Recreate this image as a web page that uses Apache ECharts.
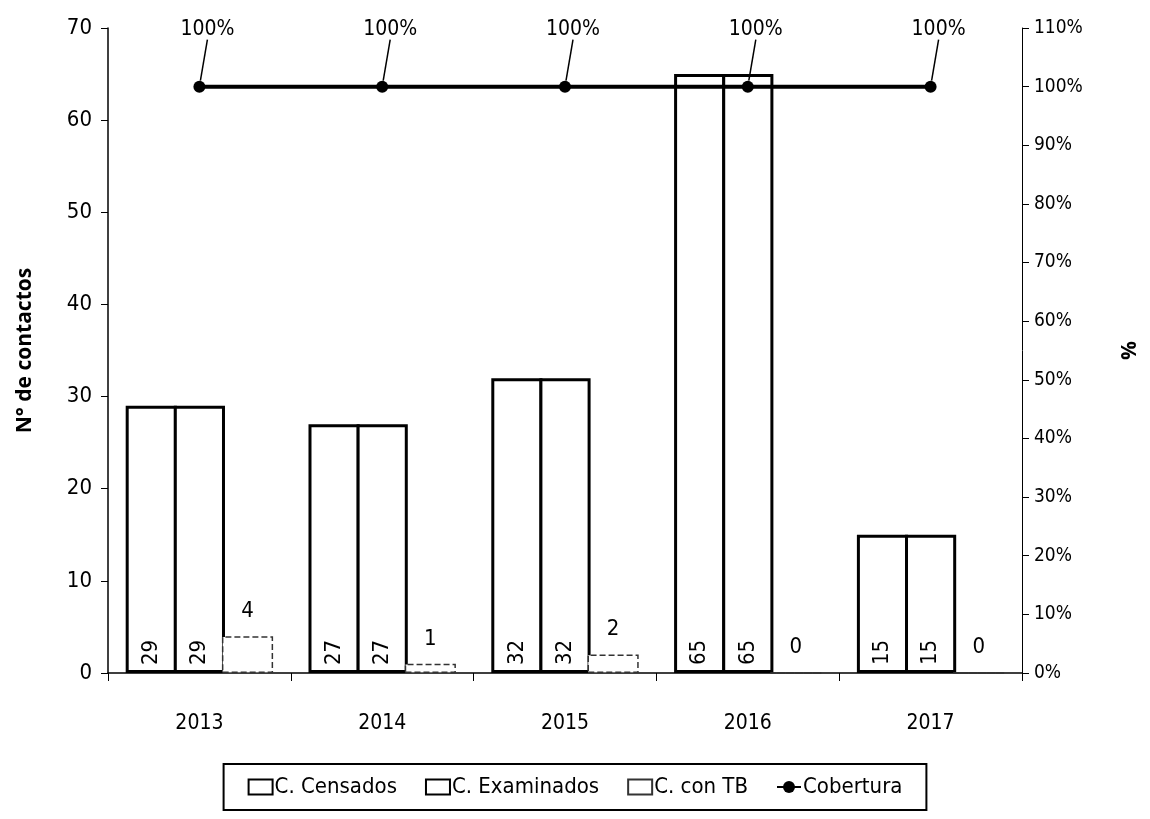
<!DOCTYPE html>
<html><head><meta charset="utf-8">
<script src="https://cdn.jsdelivr.net/npm/echarts@6/dist/echarts.min.js"></script>
<style>html,body{margin:0;padding:0;background:#fff}#c{width:1150px;height:819px}</style>
</head><body><div id="c"></div>
<script>
const categories = ['2013','2014','2015','2016','2017'];
const censados = [29, 27, 32, 65, 15];
const examinados = [29, 27, 32, 65, 15];
const conTB = [4, 1, 2, 0, 0];
const cobertura = [100, 100, 100, 100, 100];
const leftTicks = {min: 0, max: 70, interval: 10};
const rightTicks = {min: 0, max: 110, interval: 10};

const FONT = "'Liberation Sans Narrow', 'DejaVu Sans Condensed', 'Liberation Sans', sans-serif";
const chart = echarts.init(document.getElementById('c'));
const rotLabel = {
  show: true, position: 'insideBottom', rotate: 90, distance: 8,
  color: '#000', fontSize: 22, fontFamily: FONT, align: 'left', verticalAlign: 'middle'
};
chart.setOption({
  animation: false,
  backgroundColor: '#fff',
  textStyle: {fontFamily: FONT, color: '#000'},
  grid: {left: 108, right: 128, top: 28, bottom: 146},
  legend: {
    bottom: 9, left: 'center',
    data: [{name: 'C. Censados', icon: 'rect'}, {name: 'C. Examinados', icon: 'rect'}, {name: 'C. con TB', icon: 'rect'}, 'Cobertura'],
    borderColor: '#000', borderWidth: 2,
    padding: [12, 24, 12, 24],
    itemGap: 28, itemWidth: 24, itemHeight: 15,
    textStyle: {fontFamily: FONT, fontSize: 22, color: '#000', padding: [0, 0, 0, -3]}
  },
  xAxis: {
    type: 'category', data: categories,
    axisLine: {lineStyle: {color: '#000', width: 1.5}},
    axisTick: {show: true, length: 8, lineStyle: {color: '#000'}},
    axisLabel: {color: '#000', fontSize: 21, fontFamily: FONT, margin: 40}
  },
  yAxis: [{
    type: 'value', min: leftTicks.min, max: leftTicks.max, interval: leftTicks.interval,
    name: 'N° de contactos', nameLocation: 'middle', nameGap: 72, nameRotate: 90,
    nameTextStyle: {fontFamily: "'Open Sans', 'DejaVu Sans', sans-serif", fontWeight: 'bold', fontSize: 21, color: '#000'},
    axisLine: {show: true, lineStyle: {color: '#000', width: 1.5}},
    axisTick: {show: true, length: 7, lineStyle: {color: '#000'}},
    splitLine: {show: false},
    axisLabel: {color: '#000', fontSize: 22, fontFamily: FONT, margin: 16}
  }, {
    type: 'value', min: rightTicks.min, max: rightTicks.max, interval: rightTicks.interval,
    position: 'right',
    name: '%', nameLocation: 'middle', nameGap: 98, nameRotate: 90,
    nameTextStyle: {fontFamily: "'Open Sans', 'DejaVu Sans', sans-serif", fontWeight: 'bold', fontSize: 21, color: '#000'},
    axisLine: {show: true, lineStyle: {color: '#000', width: 1}},
    axisTick: {show: true, length: 7, lineStyle: {color: '#000'}},
    splitLine: {show: false},
    axisLabel: {color: '#000', fontSize: 19, fontFamily: FONT, margin: 12, formatter: '{value}%'}
  }],
  series: [{
    name: 'C. Censados', type: 'bar', data: censados,
    barWidth: '28%', barGap: '-6%',
    itemStyle: {color: '#fff', borderColor: '#000', borderWidth: 3},
    label: rotLabel
  }, {
    name: 'C. Examinados', type: 'bar', data: examinados,
    barWidth: '28%',
    itemStyle: {color: '#fff', borderColor: '#000', borderWidth: 3},
    label: rotLabel
  }, {
    name: 'C. con TB', type: 'bar', data: conTB,
    barWidth: '28%',
    itemStyle: {color: '#fff', borderColor: '#333', borderWidth: 1.5, borderType: 'dashed'},
    label: {show: true, position: 'top', distance: 14, color: '#000', fontSize: 22, fontFamily: FONT}
  }, {
    name: 'Cobertura', type: 'line', yAxisIndex: 1, data: cobertura,
    symbol: 'circle', symbolSize: 12,
    lineStyle: {color: '#000', width: 4},
    itemStyle: {color: '#000'},
    z: 5,
    label: {show: true, position: 'top', formatter: '{c}%', color: '#000', fontSize: 21, fontFamily: FONT},
    labelLayout: {dx: 8, dy: -36},
    labelLine: {show: true, lineStyle: {color: '#000', width: 1.5}}
  }]
});
</script></body></html>
